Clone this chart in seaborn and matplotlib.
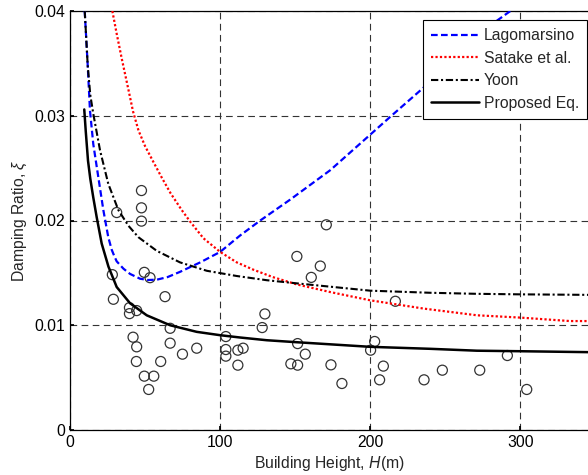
import seaborn as sns
import matplotlib
matplotlib.use("Agg")
import matplotlib.pyplot as plt
import pandas as pd

# curves
lago_h = [9.8, 11.8, 13.3, 15.5, 18.9, 22.2, 25.5, 27.8, 29.5, 31.1, 35.6, 40, 46.7, 52, 57.8,
          65, 73.3, 86.7, 100, 113.3, 126.7, 146.7, 173.3, 200, 213.3, 235.6, 257.8, 277.8,
          293.3]
lago_xi = [0.040, 0.0348, 0.0305, 0.0273, 0.0241, 0.0210, 0.0184, 0.0172, 0.0166, 0.0161,
           0.0154, 0.0149, 0.01444, 0.01432, 0.01435, 0.0146, 0.0151, 0.0160, 0.0170,
           0.01857, 0.0200, 0.0220, 0.0248, 0.0282, 0.0299, 0.0327, 0.0358, 0.0384, 0.040]

satake_h = [28.2, 31, 34.4, 38.9, 42, 45.6, 50, 55.5, 61.1, 67, 74.4, 80, 88.9, 100, 111.1,
            122.2, 135, 151, 173.3, 200, 235.6, 271.1, 300, 333, 346]
satake_xi = [0.040, 0.0379, 0.0355, 0.0325, 0.0304, 0.0286, 0.0271, 0.0256, 0.0241, 0.0226,
             0.0210, 0.0199, 0.0183, 0.0170, 0.0160, 0.0153, 0.0146, 0.0139, 0.01317,
             0.01238, 0.01159, 0.01095, 0.01073, 0.0104, 0.0104]

yoon_h = [9.8, 11.8, 13.5, 15.5, 20, 25.5, 32.2, 38.9, 45.6, 57.8, 73.3, 91.1, 111.1, 131,
          151, 200, 240, 271, 300, 346]
yoon_xi = [0.040, 0.0348, 0.0320, 0.0302, 0.0267, 0.0235, 0.0210, 0.0195, 0.0184, 0.0171,
           0.0160, 0.0152, 0.0147, 0.0143, 0.0140, 0.0133, 0.0131, 0.0130, 0.01295, 0.0129]

prop_h = [9.5, 10.5, 12, 13.5, 15.5, 17.8, 21.1, 25.6, 31.1, 40, 51.1, 66.7, 84.4, 100,
          113.3, 131, 151, 200, 240, 271, 300, 346]
prop_xi = [0.0306, 0.0285, 0.0257, 0.0240, 0.0222, 0.0203, 0.0178, 0.0156, 0.01365, 0.0121,
           0.01095, 0.0100, 0.00937, 0.00905, 0.00883, 0.00857, 0.00838, 0.00794, 0.00775,
           0.00757, 0.00752, 0.00743]

# measured buildings
meas_h = [28.2, 28.9, 31.1, 39.6, 39.6, 42.0, 44.4, 44.4, 44.2, 47.6, 47.6, 47.6, 49.5, 49.5,
          52.4, 53.3, 55.8, 60.4, 63.3, 66.7, 66.7, 74.9, 84.4, 103.8, 103.8, 103.8, 111.8,
          111.8, 115.3, 128, 129.8, 147.1, 151.1, 151.6, 151.6, 156.7, 160.7, 166.7, 170.7,
          173.8, 181.1, 200.2, 202.9, 206.2, 208.7, 216.7, 235.8, 248, 272.9, 291.3, 304.2]
meas_xi = [0.01483, 0.01248, 0.02076, 0.01168, 0.01111, 0.00886, 0.0114, 0.00794, 0.00654,
           0.02286, 0.02121, 0.01994, 0.01505, 0.00514, 0.00387, 0.01454, 0.00514, 0.00654,
           0.01273, 0.00971, 0.00829, 0.00724, 0.00781, 0.00892, 0.00768, 0.00705, 0.00762,
           0.00619, 0.00781, 0.00978, 0.01108, 0.00632, 0.01657, 0.00825, 0.00619, 0.00724,
           0.01457, 0.01565, 0.01959, 0.00622, 0.00444, 0.00762, 0.00845, 0.00479, 0.0061,
           0.01229, 0.00479, 0.00571, 0.00571, 0.00711, 0.00387]

sns.set_theme(style="ticks")
plt.rcParams["font.family"] = ["Liberation Sans", "DejaVu Sans"]
plt.rcParams["mathtext.fontset"] = "custom"
plt.rcParams["mathtext.it"] = "Liberation Sans:italic"
plt.rcParams["mathtext.rm"] = "Liberation Sans"

fs = 11.3
fig = plt.figure(figsize=(5.88, 4.75), dpi=100)
ax = fig.add_axes([70 / 588, 45 / 475, 518 / 588, 419 / 475])

meas = pd.DataFrame({"H": meas_h, "xi": meas_xi})
sns.scatterplot(data=meas, x="H", y="xi", ax=ax, marker="o", s=52, facecolors="none",
                edgecolor="#333333", linewidth=0.9, legend=False, zorder=2)

curves = [
    ("Lagomarsino", lago_h, lago_xi, "#0000ff", (0, (3, 1.5)), 1.6),
    ("Satake et al.", satake_h, satake_xi, "#ff0000", (0, (1, 1)), 1.6),
    ("Yoon", yoon_h, yoon_xi, "black", (0, (3.5, 1.3, 1, 1.3)), 1.5),
    ("Proposed Eq.", prop_h, prop_xi, "black", "-", 1.8),
]
for name, h, xi, col, ls, lw in curves:
    d = pd.DataFrame({"H": h, "xi": xi})
    sns.lineplot(data=d, x="H", y="xi", ax=ax, color=col, linestyle=ls, linewidth=lw,
                 sort=False, estimator=None, label=name, zorder=3)

ax.set_xlim(0, 345)
ax.set_ylim(0, 0.04)
ax.set_xticks([0, 100, 200, 300])
ax.set_yticks([0, 0.01, 0.02, 0.03, 0.04])
ax.set_yticklabels(["0", "0.01", "0.02", "0.03", "0.04"])
ax.tick_params(direction="in", length=3, labelsize=fs, pad=3.5, colors="black")
ax.grid(True, linestyle=(0, (6, 4)), color="#333333", linewidth=0.8)
ax.spines["right"].set_visible(False)
for s in ["left", "bottom", "top"]:
    ax.spines[s].set_color("black")
    ax.spines[s].set_linewidth(0.9)

ax.set_xlabel("Building Height, $H$(m)", fontsize=fs, labelpad=3)
ax.set_ylabel(r"Damping Ratio, $\xi$", fontsize=fs, labelpad=4)

leg = ax.legend(loc="upper left", bbox_to_anchor=(0.681, 0.978), fontsize=fs,
                frameon=True, fancybox=False, framealpha=1, edgecolor="black",
                handlelength=3.1, handletextpad=0.3, labelspacing=0.48, borderpad=0.5,
                borderaxespad=0)
leg.get_frame().set_linewidth(0.8)

fig.savefig("out.png", dpi=100)
